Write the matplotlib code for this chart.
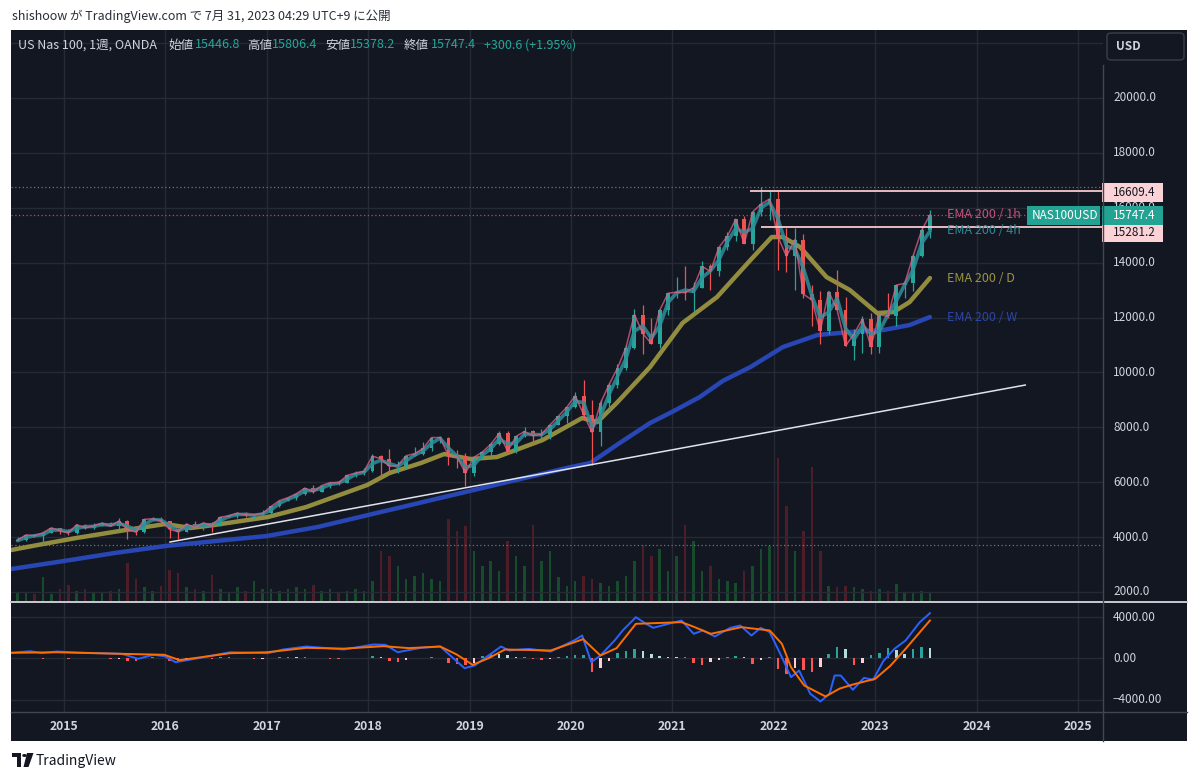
import matplotlib
matplotlib.use('Agg')
import matplotlib.pyplot as plt
import numpy as np
import pandas as pd
from matplotlib.patches import Rectangle, FancyBboxPatch, Circle, Polygon
from matplotlib.lines import Line2D
from matplotlib.transforms import blended_transform_factory

plt.rcParams['font.family'] = ['Noto Sans CJK JP', 'DejaVu Sans']

# ---------------- data (monthly resolution) ----------------
months = pd.date_range('2014-07-01', '2023-07-01', freq='MS')

opens = [3850, 3890, 4083, 4050, 4158, 4339,
         4236, 4152, 4455, 4334, 4415, 4509, 4397, 4589, 4274, 4181, 4649, 4665,
         4593, 4279, 4201, 4483, 4341, 4523, 4418, 4730, 4771, 4875, 4801, 4811,
         4864, 5118, 5331, 5436, 5584, 5788, 5647, 5880, 5988, 5979, 6248, 6335,
         6397, 6950, 6854, 6581, 6607, 6967, 7040, 7233, 7627, 7627, 6968, 6949,
         6330, 6906, 7097, 7378, 7781, 7128, 7672, 7848, 7693, 7749, 8083, 8403,
         8733, 9150, 8462, 7813, 8890, 9555, 10157, 10905, 12110, 11418, 11052, 12268,
         12888, 12925, 12909, 13091, 13861, 13687, 14554, 14959, 15583, 14690, 15850, 16135,
         16320, 14930, 14237, 14838, 12855, 12643, 11504, 12947, 12272, 10971, 11406, 11951,
         10940, 12102, 12043, 13182, 13246, 14254, 15180]
highs = [3990, 4090, 4120, 4170, 4350, 4350,
         4290, 4480, 4490, 4520, 4540, 4560, 4690, 4620, 4400, 4660, 4720, 4720,
         4600, 4320, 4490, 4570, 4530, 4560, 4740, 4820, 4900, 4900, 4850, 4970,
         5120, 5340, 5450, 5600, 5800, 5900, 5910, 5990, 6030, 6250, 6420, 6500,
         7020, 7000, 7200, 6770, 6990, 7280, 7450, 7630, 7700, 7650, 7180, 7080,
         6920, 7130, 7460, 7850, 7850, 7700, 8030, 7900, 7930, 8120, 8430, 8750,
         9270, 9740, 9000, 9000, 9600, 10300, 10990, 12300, 12470, 12000, 12300, 12900,
         13480, 13880, 13300, 14060, 13960, 14580, 15120, 15600, 15700, 15870, 16750, 16660,
         16600, 15260, 15270, 15030, 13200, 12950, 12950, 13720, 12740, 11600, 12050, 12170,
         12160, 12880, 13200, 13300, 14330, 15280, 15930]
lows = [3850, 3850, 4000, 3700, 4140, 4100,
        4090, 4120, 4280, 4310, 4390, 4390, 4300, 3930, 4080, 4150, 4580, 4500,
        3950, 3930, 4170, 4320, 4270, 4200, 4410, 4700, 4680, 4750, 4650, 4780,
        4860, 5110, 5300, 5350, 5550, 5600, 5640, 5780, 5900, 5970, 6200, 6250,
        6390, 6170, 6320, 6320, 6520, 6950, 7000, 7140, 7420, 6630, 6520, 5850,
        6230, 6860, 6960, 7370, 7080, 7080, 7640, 7370, 7570, 7560, 8080, 8170,
        8700, 8300, 6630, 7320, 8600, 9430, 10100, 10850, 10670, 11050, 10900, 12100,
        12700, 12640, 12200, 13060, 12990, 13500, 14450, 14800, 14700, 14450, 15700, 15560,
        13720, 13650, 13020, 12720, 11700, 11030, 11400, 12260, 10970, 10440, 10690, 10680,
        10700, 11980, 11700, 12720, 12950, 14200, 14900]
closes = [3890, 4083, 4050, 4158, 4339, 4236,
          4152, 4455, 4334, 4415, 4509, 4397, 4589, 4274, 4181, 4649, 4665, 4593,
          4279, 4201, 4483, 4341, 4523, 4418, 4730, 4771, 4875, 4801, 4811, 4864,
          5118, 5331, 5436, 5584, 5788, 5647, 5880, 5988, 5979, 6248, 6335, 6397,
          6950, 6854, 6581, 6607, 6967, 7040, 7233, 7627, 7627, 6968, 6949, 6330,
          6906, 7097, 7378, 7781, 7128, 7672, 7848, 7693, 7749, 8083, 8403, 8733,
          9150, 8462, 7813, 8890, 9555, 10157, 10905, 12110, 11418, 11052, 12268, 12888,
          12925, 12909, 13091, 13861, 13687, 14554, 14959, 15583, 14690, 15850, 16135, 16320,
          14930, 14237, 14838, 12855, 12643, 11504, 12947, 12272, 10971, 11406, 11951, 10940,
          12102, 12043, 13182, 13246, 14254, 15180, 15747.4]
volumes = [8, 8, 7, 24, 7, 12,
           16, 10, 12, 9, 8, 10, 12, 38, 22, 14, 10, 15,
           31, 28, 14, 12, 10, 26, 12, 8, 14, 10, 20, 12,
           12, 10, 12, 14, 12, 16, 10, 12, 8, 10, 12, 10,
           20, 50, 45, 35, 22, 25, 28, 22, 20, 82, 70, 75,
           50, 35, 40, 30, 60, 45, 35, 76, 40, 50, 24, 15,
           20, 25, 22, 18, 15, 20, 25, 40, 56, 45, 52, 30,
           45, 76, 60, 30, 35, 22, 20, 18, 30, 35, 52, 55,
           143, 95, 50, 70, 134, 50, 15, 14, 15, 14, 12, 10,
           12, 10, 17, 8, 8, 10, 8]
ema_4h = [3870, 3990, 4050, 4090, 4250, 4260,
          4200, 4320, 4380, 4390, 4460, 4440, 4500, 4400, 4260, 4450, 4640, 4620,
          4420, 4230, 4350, 4400, 4440, 4450, 4600, 4750, 4820, 4830, 4800, 4840,
          4990, 5230, 5380, 5500, 5690, 5700, 5780, 5920, 5970, 6110, 6290, 6360,
          6680, 6800, 6680, 6580, 6780, 6990, 7140, 7420, 7600, 7250, 6950, 6550,
          6620, 6980, 7230, 7570, 7400, 7420, 7750, 7740, 7730, 7920, 8240, 8560,
          8950, 8900, 8000, 8400, 9200, 9850, 10500, 11500, 11700, 11250, 11700, 12550,
          12900, 13000, 12950, 13450, 13700, 14100, 14750, 15250, 15100, 15250, 16000, 16200,
          15600, 14600, 14500, 13800, 12800, 12000, 12200, 12700, 11600, 11200, 11700, 11400,
          11500, 12100, 12600, 13200, 13750, 14700, 15155]

ema_d_t = [2014.48, 2014.74, 2015.12, 2015.61, 2016.0, 2016.25, 2016.48, 2017.01, 2017.39,
           2017.99, 2018.21, 2018.52, 2018.75, 2019.01, 2019.27, 2019.72, 2020.11, 2020.26,
           2020.45, 2020.78, 2021.10, 2021.44, 2021.77, 2021.98, 2022.09, 2022.26, 2022.52,
           2022.75, 2023.02, 2023.18, 2023.34, 2023.54]
ema_d_v = [3530, 3712, 3967, 4259, 4477, 4332, 4441, 4732, 5097,
           5898, 6335, 6699, 7027, 6845, 6918, 7537, 8339, 8193,
           8885, 10197, 11800, 12747, 14095, 14933, 14933, 14568, 13475,
           13002, 12164, 12200, 12565, 13439]

ema_w_t = [2014.48, 2015.0, 2015.5, 2016.0, 2016.5, 2017.0, 2017.5, 2018.0, 2018.5, 2019.0,
           2019.5, 2020.0, 2020.19, 2020.45, 2020.78, 2021.0, 2021.27, 2021.5, 2021.77, 2022.09,
           2022.43, 2022.75, 2023.08, 2023.34, 2023.54]
ema_w_v = [2838, 3129, 3421, 3676, 3858, 4040, 4368, 4805, 5242, 5680,
           6117, 6554, 6700, 7355, 8157, 8568, 9104, 9697, 10197, 10925,
           11362, 11472, 11545, 11727, 12018]

trend_t = [2016.045, 2024.48]
trend_v = [3821, 9541]

level_vals = [16609.4, 15281.2]
level_start_t = [2021.77, 2021.87]

macd_t = [2014.48, 2014.67, 2014.78, 2014.93, 2015.12, 2015.57, 2015.73, 2015.88, 2015.99, 2016.10,
          2016.29, 2016.64, 2017.01, 2017.16, 2017.39, 2017.76, 2018.05, 2018.17, 2018.29, 2018.52,
          2018.71, 2018.95, 2019.05, 2019.31, 2019.39, 2019.58, 2019.80, 2020.03, 2020.11, 2020.20,
          2020.29, 2020.43, 2020.51, 2020.64, 2020.74, 2020.81, 2021.00, 2021.09, 2021.21, 2021.30,
          2021.42, 2021.57, 2021.67, 2021.78, 2021.87, 2021.96, 2022.08, 2022.17, 2022.25, 2022.36,
          2022.46, 2022.55, 2022.60, 2022.66, 2022.78, 2022.89, 2022.98, 2023.08, 2023.19, 2023.30,
          2023.44, 2023.54]
macd_v = [550, 704, 511, 675, 578, 450, -30, 356, 222, -356,
          -30, 607, 511, 868, 1157, 868, 1350, 1318, 607, 1028,
          1157, -935, -675, 1157, 771, 932, 675, 1735, 2217, -356,
          289, 1735, 2700, 3985, 3343, 2957, 3439, 3663, 2378, 2700,
          2121, 2957, 3181, 2217, 2957, 2539, 125, -1800, -1157, -3400,
          -4145, -3400, -1639, -1639, -3017, -1864, -2057, -257, 932, 1735,
          3500, 4370]
signal_t = [2014.48, 2014.93, 2015.57, 2015.99, 2016.14, 2016.64, 2017.0, 2017.39, 2017.76, 2018.15,
            2018.4, 2018.71, 2018.87, 2019.03, 2019.18, 2019.35, 2019.8, 2020.12, 2020.29, 2020.45,
            2020.64, 2021.09, 2021.2, 2021.38, 2021.68, 2021.96, 2022.08, 2022.17, 2022.3, 2022.51,
            2022.65, 2022.78, 2023.0, 2023.15, 2023.3, 2023.42, 2023.54]
signal_v = [550, 600, 450, 356, -161, 511, 600, 1028, 950, 1189,
            1000, 1157, 400, -610, 0, 868, 771, 1864, 289, 1000,
            3343, 3503, 3100, 2378, 3021, 2700, 1415, -835, -2600, -3660,
            -2900, -2507, -1960, -700, 932, 2300, 3663]
hist = [0, 80, 0, -60, 50, 40,
        -30, 40, 20, 10, 30, -40, -30, -200, -250, 120, 150, 60,
        -250, -300, -100, 50, 30, -50, 100, 120, 80, 0, -60, -20,
        60, 120, 130, 100, 120, 40, 10, -20, -40, 60, 80, 60,
        200, 150, -250, -350, -100, 50, 80, 120, 50, -400, -550, -600,
        -400, 200, 480, 450, 300, 100, 150, -50, -150, -50, 150, 250,
        300, 300, -1300, -900, -200, 500, 700, 900, 700, 400, 200, 150,
        100, 150, -400, -600, -300, -100, 100, 200, 150, -500, -150, 100,
        -1000, -1450, -900, -1100, -1300, -800, 400, 1150, 900, -650, -400, 300,
        500, 1000, 800, 400, 900, 1100, 1000]

price_ticks = [2000, 4000, 6000, 8000, 10000, 12000, 14000, 16000, 18000, 20000, 22000]
macd_ticks = [-4000, 0, 4000]
years = list(range(2015, 2026))

# ---------------- layout ----------------
W_PX, H_PX = 1200, 779
fig = plt.figure(figsize=(W_PX / 100, H_PX / 100), dpi=100)
fig.patch.set_facecolor('white')


def fx(px):
    return px / W_PX


def fy(py):
    return 1 - py / H_PX


BG = '#131722'
GRID = '#262a35'
TXT = '#d1d4dc'
UP = '#26a69a'
DN = '#ef5350'
X_LEFT, X_RIGHT = 2014.477, 2025.247

fig.add_artist(Rectangle((fx(11), fy(741)), fx(1187) - fx(11), fy(30) - fy(741),
                         transform=fig.transFigure, facecolor=BG, edgecolor='none', zorder=-10))

rect_p = [fx(11), fy(601), fx(1103) - fx(11), fy(30) - fy(601)]
ax_v = fig.add_axes(rect_p)
ax_v.set_zorder(1)
ax_p = fig.add_axes(rect_p)
ax_p.set_zorder(2)
ax_m = fig.add_axes([fx(11), fy(712), fx(1103) - fx(11), fy(602) - fy(712)])
ax_m.set_zorder(2)
for a in (ax_v, ax_p, ax_m):
    a.set_xlim(X_LEFT, X_RIGHT)
    a.axis('off')
ax_p.set_ylim(1672, 22477)
ax_v.set_ylim(0, 571)
ax_m.set_ylim(-5157, 5446)

# grid
for yv in price_ticks:
    ax_p.axhline(yv, color=GRID, lw=1, zorder=0)
for yr in years:
    ax_p.axvline(yr, color=GRID, lw=1, zorder=0)
    ax_m.axvline(yr, color=GRID, lw=1, zorder=0)
for mv in macd_ticks:
    ax_m.axhline(mv, color=GRID, lw=1, zorder=0)

# ---------------- price pane ----------------
t = months.year.values + (months.month.values - 0.5) / 12
o = np.array(opens, float)
h = np.array(highs, float)
l = np.array(lows, float)
c = np.array(closes, float)
up = c >= o
cols = np.where(up, UP, DN)

vcols = np.where(up, '#17552d', '#5a1f2a')
ax_v.bar(t, volumes, width=0.3 / 12, color=vcols, linewidth=0, alpha=0.85)

ax_p.plot(ema_w_t, ema_w_v, color='#2847b5', lw=3.2, zorder=2, solid_capstyle='round')
ax_p.plot(ema_d_t, ema_d_v, color='#a09a42', lw=3.2, alpha=0.9, zorder=2, solid_capstyle='round')

ax_p.vlines(t, l, h, colors=cols, lw=0.9, zorder=3)
ax_p.bar(t, np.maximum(np.abs(c - o), 20), bottom=np.minimum(o, c), width=0.45 / 12,
         color=cols, linewidth=0, zorder=3)

ax_p.plot(t, ema_4h, color='#2f8e9b', lw=2.6, alpha=0.85, zorder=4, solid_capstyle='round')
ax_p.plot(t, closes, color='#e25f86', lw=1.1, alpha=0.75, zorder=4)

ax_p.plot(trend_t, trend_v, color='#e0e3eb', lw=1.1, zorder=5)
ax_p.hlines(level_vals, level_start_t, X_RIGHT, color='#f5c9cd', lw=1.3, zorder=5)

ax_p.axhline(h.max(), color='#6f7380', lw=0.9, ls=(0, (1, 2)), zorder=1)
ax_p.axhline(l.min(), color='#6f7380', lw=0.9, ls=(0, (1, 2)), zorder=1)
ax_p.axhline(c[-1], color='#c0465a', lw=0.9, ls=(0, (1, 2)), zorder=1)

# EMA labels
lab_x = t[-1] + 0.17
ema_labels = [('EMA 200 / 1h', closes[-1], '#c4527a'),
              ('EMA 200 / 4h', ema_4h[-1], '#2f8896'),
              ('EMA 200 / D', ema_d_v[-1], '#9b9540'),
              ('EMA 200 / W', ema_w_v[-1], '#2b46a8')]
for txt, val, col in ema_labels:
    ax_p.text(lab_x, val, txt, color=col, fontsize=9, va='center', ha='left',
              zorder=6, clip_on=False)

# right price axis labels
tr_p = blended_transform_factory(ax_p.transAxes, ax_p.transData)
ax_lab_x = (1113 - 11) / (1103 - 11)
for yv in price_ticks[:-1]:
    ax_p.text(ax_lab_x, yv, f'{yv:.1f}', transform=tr_p, color=TXT, fontsize=8.5,
              va='center', ha='left', clip_on=False, zorder=1)


def fig_y_of(ax, v):
    return fig.transFigure.inverted().transform(ax.transData.transform((X_LEFT, v)))[1]


def price_box(val, text, fc, tc, x0, x1, dy_px=0, tx=None):
    yc = fig_y_of(ax_p, val) - dy_px / H_PX
    hgt = 19 / H_PX
    fig.add_artist(Rectangle((fx(x0), yc - hgt / 2), fx(x1) - fx(x0), hgt,
                             transform=fig.transFigure, facecolor=fc, edgecolor='none', zorder=5))
    fig.text(fx(tx if tx is not None else x0 + 11), yc, text, color=tc, fontsize=8.5,
             va='center', ha='left', zorder=6)


price_box(level_vals[0], f'{level_vals[0]:.1f}', '#fbd3d7', '#131722', 1102, 1163, dy_px=1.5)
price_box(level_vals[1], f'{level_vals[1]:.1f}', '#fbd3d7', '#131722', 1102, 1163, dy_px=5)
price_box(closes[-1], f'{closes[-1]:.1f}', '#22a393', 'white', 1102, 1163, dy_px=1)
price_box(closes[-1], 'NAS100USD', '#22a393', 'white', 1027, 1100, dy_px=1, tx=1032)

# ---------------- MACD pane ----------------
hv = np.array(hist, float)
prev = np.concatenate([[hv[0]], hv[:-1]])
hcols = np.where(hv >= 0, np.where(hv >= prev, '#26a69a', '#b2dfdb'),
                 np.where(hv >= prev, '#ffcdd2', '#ff5252'))
ax_m.bar(t, hv, width=0.3 / 12, color=hcols, linewidth=0, zorder=2)
ax_m.plot(macd_t, macd_v, color='#2962ff', lw=1.4, zorder=3)
ax_m.plot(signal_t, signal_v, color='#ff6d00', lw=1.4, zorder=3)

tr_m = blended_transform_factory(ax_m.transAxes, ax_m.transData)
for mv in macd_ticks:
    s = f'{abs(mv):.2f}'
    if mv < 0:
        s = '\u2212' + s
    ax_m.text(ax_lab_x, mv, s, transform=tr_m, color=TXT, fontsize=8.5,
              va='center', ha='left', clip_on=False)

# time axis labels
tr_t = blended_transform_factory(ax_m.transData, fig.transFigure)
for yr in years:
    ax_m.text(yr, fy(726), str(yr), transform=tr_t, color=TXT, fontsize=8.8,
              fontweight='bold', ha='center', va='center', clip_on=False)

# ---------------- separators & frame details ----------------
fig.add_artist(Line2D([fx(11), fx(1187)], [fy(601.5), fy(601.5)], transform=fig.transFigure,
                      color='#c8cad0', lw=1.4, zorder=7))
fig.add_artist(Line2D([fx(11), fx(1187)], [fy(712), fy(712)], transform=fig.transFigure,
                      color='#434651', lw=1, zorder=7))
fig.add_artist(Line2D([fx(1103), fx(1103)], [fy(65), fy(741)], transform=fig.transFigure,
                      color='#434651', lw=1, zorder=7))

# USD box
fig.add_artist(FancyBboxPatch((fx(1107), fy(60)), fx(1184) - fx(1107), fy(33) - fy(60),
                              boxstyle='round,pad=0,rounding_size=0.004',
                              transform=fig.transFigure, facecolor=BG, edgecolor='#3a3e49',
                              lw=1, zorder=7))
fig.text(fx(1116), fy(46.5), 'USD', color=TXT, fontsize=8.5, fontweight='bold',
         va='center', ha='left', zorder=8)

# header legend
hdr_y = fy(45)
pieces = [(18, 'US Nas 100, 1週, OANDA', TXT), (168, '始値', TXT), (195, '15446.8', UP),
          (247, '高値', TXT), (272, '15806.4', UP), (325, '安値', TXT), (350, '15378.2', UP),
          (404, '終値', TXT), (431, '15747.4', UP), (484, '+300.6 (+1.95%)', UP)]
for px, s, col in pieces:
    fig.text(fx(px), hdr_y, s, color=col, fontsize=9, va='center', ha='left', zorder=8)

# top publication line
fig.text(fx(12), fy(16), 'shishoow が TradingView.com で 7月 31, 2023 04:29 UTC+9 に公開',
         color='#2a2e39', fontsize=9, va='center', ha='left')

# TradingView logo
LOGO = '#131722'
fig.add_artist(Rectangle((fx(12), fy(757)), fx(21) - fx(12), fy(753) - fy(757),
                         transform=fig.transFigure, facecolor=LOGO, edgecolor='none'))
fig.add_artist(Rectangle((fx(16.5), fy(767)), fx(21) - fx(16.5), fy(753) - fy(767),
                         transform=fig.transFigure, facecolor=LOGO, edgecolor='none'))
fig.add_artist(Circle((fx(24.5), fy(755.5)), 2.3 / W_PX, transform=fig.transFigure,
                      facecolor=LOGO, edgecolor='none'))
fig.add_artist(Polygon([(fx(27), fy(753)), (fx(33.5), fy(753)), (fx(28.5), fy(767)), (fx(23.5), fy(767))],
                       closed=True, transform=fig.transFigure, facecolor=LOGO, edgecolor='none'))
fig.text(fx(36), fy(760.5), 'TradingView', color='#131722', fontsize=10, va='center', ha='left')

fig.savefig('out.png', dpi=100, facecolor='white')
